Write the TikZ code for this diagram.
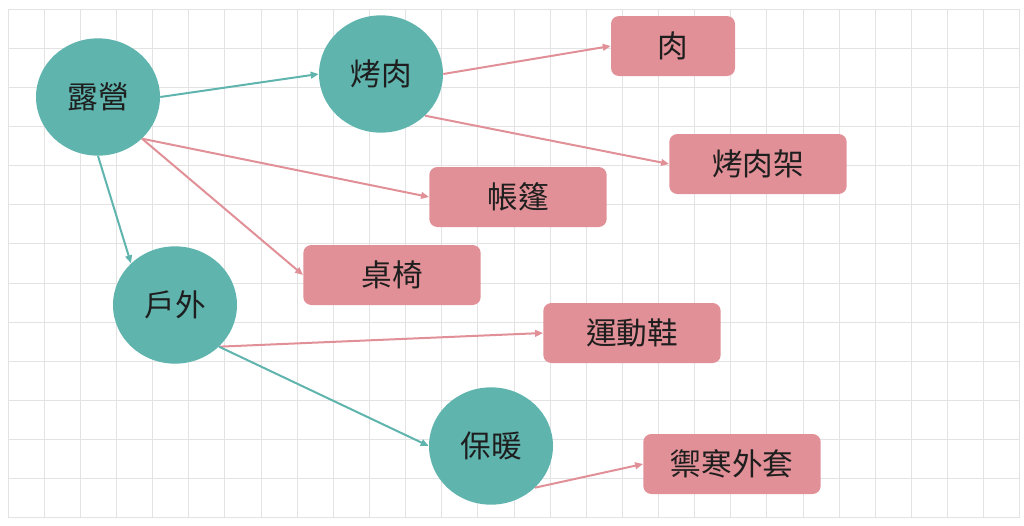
\documentclass[tikz,border=0pt]{standalone}
\usepackage{fontspec}
\newfontfamily\cjk{Noto Sans CJK TC}
\usetikzlibrary{arrows.meta,shapes.geometric}

\definecolor{teal}{HTML}{5FB4AE}
\definecolor{rose}{HTML}{E09096}
\definecolor{gridgray}{HTML}{E3E3E3}
\definecolor{ink}{HTML}{1E1E1E}

\begin{document}
\begin{tikzpicture}[x=0.75pt, y=-0.75pt,
    topic/.style={ellipse, fill=teal, text=ink, inner sep=0pt,
        minimum width=93pt, minimum height=88pt, font=\cjk\fontsize{23}{28}\selectfont},
    item/.style={rectangle, rounded corners=6pt, fill=rose, text=ink, inner sep=0pt,
        minimum width=133pt, minimum height=45pt, font=\cjk\fontsize{23}{28}\selectfont},
    tlink/.style={draw=teal, line width=1.5pt, -{Triangle[length=6pt,width=5pt]}},
    rlink/.style={draw=rose, line width=1.5pt, -{Triangle[length=6pt,width=5pt]}}]

\useasboundingbox (0,0) rectangle (1024,525);

\foreach \i in {0,...,28}
    \draw[gridgray, line width=0.7pt] ({8+36.14*\i},9) -- ({8+36.14*\i},518);
\foreach \j in {0,...,13}
    \draw[gridgray, line width=0.7pt] (8,{9+39.15*\j}) -- (1020,{9+39.15*\j});

\node[topic] (lu) at (98,97)   {露營};
\node[topic] (kr) at (381,74)  {烤肉};
\node[topic] (hw) at (175,305) {戶外};
\node[topic] (bn) at (491,446) {保暖};

\node[item, minimum width=93pt] (rou) at (673,46) {肉};
\node[item] (jia)  at (758,164) {烤肉架};
\node[item] (zp)   at (518,197) {帳篷};
\node[item] (zy)   at (392,275) {桌椅};
\node[item] (xie)  at (632,333) {運動鞋};
\node[item] (wt)   at (732,464) {禦寒外套};

\draw[tlink] (lu.east) -- (kr.west);
\draw[tlink] (lu.south) -- (hw.north west);
\draw[rlink] (lu.south east) -- (zp.west);
\draw[rlink] (lu.south east) -- (zy.west);
\draw[rlink] (kr.east) -- (rou.west);
\draw[rlink] (kr.south east) -- (jia.west);
\draw[rlink] (hw.south east) -- (xie.west);
\draw[tlink] (hw.south east) -- (bn.west);
\draw[rlink] (bn.south east) -- (wt.west);

\end{tikzpicture}
\end{document}
